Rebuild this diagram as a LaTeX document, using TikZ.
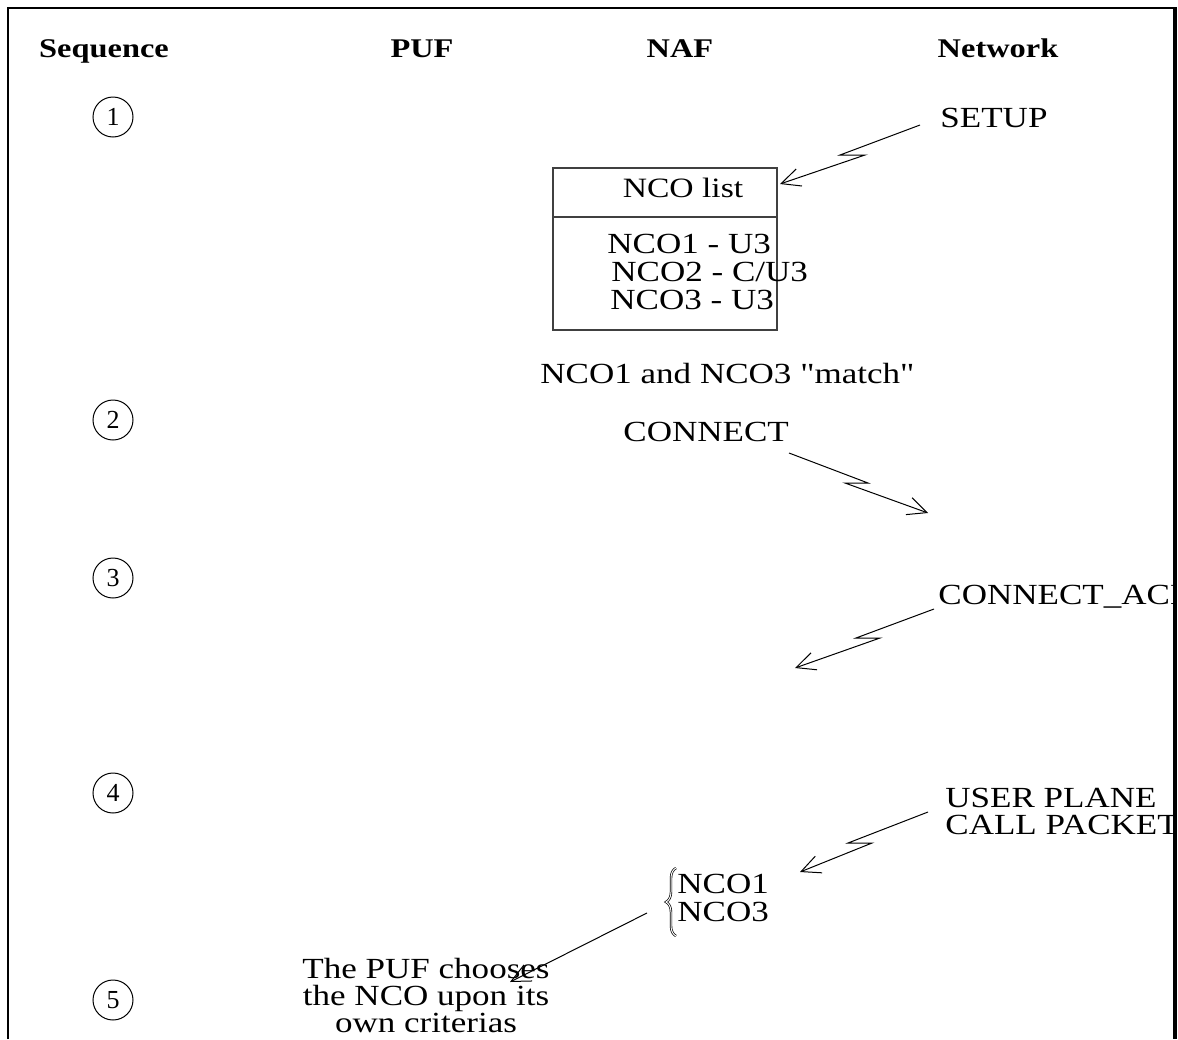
\documentclass[tikz,border=0pt]{standalone}
\usepackage{fontspec}
\setmainfont{Liberation Serif}
\newfontfamily\labelfont[FakeStretch=1.2]{Liberation Serif}
\newfontfamily\headfont[FakeStretch=1.2]{Liberation Serif}
\usetikzlibrary{arrows.meta,decorations.pathreplacing}

\begin{document}
\begin{tikzpicture}[x=0.5pt,y=-0.5pt,
  lbl/.style={anchor=base west, inner sep=0pt, font=\labelfont\fontsize{14.6}{15}\selectfont},
  clbl/.style={lbl, anchor=base},
  head/.style={anchor=base, inner sep=0pt, font=\headfont\bfseries\fontsize{13.5}{14}\selectfont},
  seqnum/.style={circle, draw, line width=0.5pt, minimum size=20pt, inner sep=0pt,
                 font=\fontsize{13}{13}\selectfont},
  signal/.style={draw, line width=0.5pt, -{Straight Barb[length=9.5pt,width=9pt]}},
  listcell/.style={draw=black!75, line width=0.6pt, inner sep=0pt},
]
\useasboundingbox (0,0) rectangle (1178,1039);

% column headings
\node[head] (hseq) at (104,57) {Sequence};
\node[head] (hpuf) at (422,57) {PUF};
\node[head] (hnaf) at (680,57) {NAF};
\node[head] (hnet) at (998,57) {Network};

% sequence numbers
\node[seqnum] (s1) at (113,117) {1};
\node[seqnum] (s2) at (113,420) {2};
\node[seqnum] (s3) at (113,578) {3};
\node[seqnum] (s4) at (113,793) {4};
\node[seqnum] (s5) at (113,1000) {5};

% NCO list held by the NAF
\draw[listcell] (553,168) rectangle (777,330);
\draw[listcell] (553,217) -- (777,217);
\node[clbl, font=\labelfont\fontsize{14}{14}\selectfont] (listhead) at (683,197) {NCO list};
\node[lbl] (nco1) at (607,253) {NCO1 - U3};
\node[lbl] (nco2) at (611,281) {NCO2 - C/U3};
\node[lbl] (nco3) at (610,309) {NCO3 - U3};
\node[lbl] (match) at (540,383) {NCO1 and NCO3 "match"};

% messages (clipped by the right-hand frame)
\begin{scope}
  \clip (0,0) rectangle (1174,1039);
  \node[lbl] (setup) at (940,127) {SETUP};
  \node[lbl] (connect) at (623,441) {CONNECT};
  \node[lbl] (connack) at (938,604) {CONNECT\_ACK};
  \node[lbl] (user) at (945,807) {USER PLANE};
  \node[lbl] (packet) at (945,834) {CALL PACKET};
\end{scope}

% matching NCOs
\node[lbl] (sel1) at (677,893) {NCO1};
\node[lbl] (sel3) at (677,921) {NCO3};
\draw[decorate, decoration={brace, amplitude=5pt}, line width=0.35pt,
      double, double distance=0.5pt] (676,936) -- (676,868);

% PUF decision
\node[clbl] (puf1) at (426,978) {The PUF chooses};
\node[clbl] (puf2) at (426,1005) {the NCO upon its};
\node[clbl] (puf3) at (426,1032) {own criterias};

% signal arrows (lightning style)
\coordinate (a1s) at (920,125);
\coordinate (a1k) at (840,155);
\coordinate (a1j) at (865,155);
\coordinate (a1e) at (780,184);
\draw[signal] (a1s) -- (a1k) -- (a1j) -- (a1e);

\coordinate (a2s) at (789,453);
\coordinate (a2k) at (868,483);
\coordinate (a2j) at (845,483);
\coordinate (a2e) at (928,513);
\draw[signal] (a2s) -- (a2k) -- (a2j) -- (a2e);

\coordinate (a3s) at (934,609);
\coordinate (a3k) at (856,638);
\coordinate (a3j) at (880,638);
\coordinate (a3e) at (795,668);
\draw[signal] (a3s) -- (a3k) -- (a3j) -- (a3e);

\coordinate (a4s) at (928,812);
\coordinate (a4k) at (848,843);
\coordinate (a4j) at (872,843);
\coordinate (a4e) at (800,872);
\draw[signal] (a4s) -- (a4k) -- (a4j) -- (a4e);

\coordinate (a5s) at (647,913);
\coordinate (a5e) at (510,982);
\draw[signal] (a5s) -- (a5e);

% frame
\draw[line width=1.3pt] (8,1039) -- (8,8) -- (1176,8);
\draw[line width=2pt] (1175,7) -- (1175,1039);
\end{tikzpicture}
\end{document}
